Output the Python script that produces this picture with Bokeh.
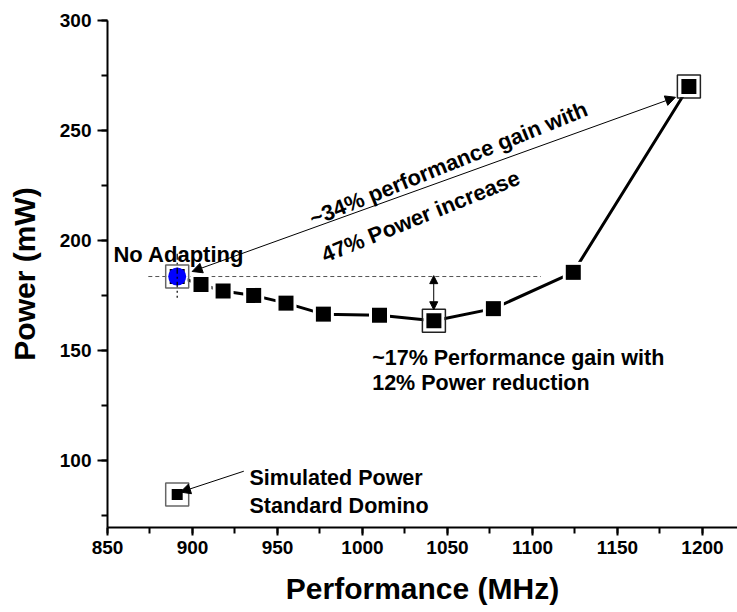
from bokeh.plotting import figure
from bokeh.models import Range1d, SingleIntervalTicker, Arrow, NormalHead
from bokeh.core.properties import value
from bokeh.embed import file_html
from bokeh.resources import INLINE
import math

# ---- data ----
perf_mhz = [891, 905, 918, 936, 955, 977, 1010, 1042, 1077, 1124, 1192]
power_mw = [183.6, 180.0, 177.0, 175.0, 171.5, 166.5, 166.0, 163.5, 169.0, 185.5, 270.0]
no_adapt_perf = [891]
no_adapt_power = [183.6]
sim_perf = [891]
sim_power = [84.5]
boxed_perf = [891, 1042, 1192]
boxed_power = [183.6, 163.5, 270.0]
x_ticks = [850, 900, 950, 1000, 1050, 1100, 1150, 1200]
y_ticks = [100, 150, 200, 250, 300]

FONT = "Liberation Sans"

p = figure(width=737, height=612, output_backend="svg", toolbar_location=None,
           x_range=Range1d(850, 1220.6), y_range=Range1d(69.5, 300),
           min_border_left=107, min_border_right=0, min_border_top=20, min_border_bottom=85)
p.outline_line_color = None
p.grid.visible = False
p.background_fill_color = "white"
p.border_fill_color = "white"

p.xaxis.ticker = SingleIntervalTicker(interval=50, num_minor_ticks=2)
p.yaxis.ticker = SingleIntervalTicker(interval=50, num_minor_ticks=2)
for ax in (p.xaxis, p.yaxis):
    ax.axis_line_width = 2
    ax.major_tick_line_width = 2
    ax.minor_tick_line_width = 2
    ax.major_tick_in = 0
    ax.minor_tick_in = 0
    ax.major_label_text_font = FONT
    ax.major_label_text_font_style = "bold"
    ax.major_label_text_font_size = "19px"
    ax.major_label_text_color = "black"
    ax.axis_label_text_font = FONT
    ax.axis_label_text_font_style = "bold"
    ax.axis_label_text_font_size = "30px"
    ax.axis_label_text_color = "black"
p.xaxis.major_tick_out = 8
p.xaxis.minor_tick_out = 6
p.yaxis.major_tick_out = 10
p.yaxis.minor_tick_out = 6
p.xaxis.major_label_standoff = 5
p.yaxis.major_label_standoff = 6

p.xaxis.axis_label = "Performance (MHz)"
p.xaxis.axis_label_standoff = 15
p.yaxis.axis_label = "Power (mW)"
p.yaxis.axis_label_standoff = 16

# reference lines
p.line([874, 1105], [no_adapt_power[0]] * 2, line_color="#555555", line_width=1, line_dash="4 3")

# main series
p.line(perf_mhz, power_mw, line_color="black", line_width=3)
p.scatter(perf_mhz, power_mw, marker="square", size=21, fill_color="white", line_color=None)
p.scatter(perf_mhz, power_mw, marker="square", size=15, fill_color="black", line_color=None)

# simulated point
p.scatter(sim_perf, sim_power, marker="square", size=11, fill_color="black", line_color=None)

# no adapting point
p.scatter(no_adapt_perf, no_adapt_power, marker="circle", size=18, fill_color="#0000FF", line_color=None)
p.line([no_adapt_perf[0]] * 2, [194, 174], line_color="black", line_width=1.2, line_dash="6 3 2 3")

# highlight boxes
p.scatter(boxed_perf, boxed_power, marker="square", size=23, fill_color=None,
          line_color=["#666666", "#222222", "#222222"], line_width=1.5)
p.scatter(sim_perf, sim_power, marker="square", size=23, fill_color=None,
          line_color="#666666", line_width=1.5)

# arrows
p.add_layout(Arrow(start=NormalHead(size=10, fill_color="black", line_color="black"),
                   end=NormalHead(size=10, fill_color="black", line_color="black"),
                   x_start=899.8, y_start=185.9, x_end=1184.1, y_end=265.1,
                   line_color="black", line_width=1))
p.add_layout(Arrow(start=NormalHead(size=8, fill_color="black", line_color="black"),
                   end=NormalHead(size=8, fill_color="black", line_color="black"),
                   x_start=1041.9, y_start=184.0, x_end=1041.9, y_end=168.5,
                   line_color="black", line_width=1))
p.add_layout(Arrow(end=NormalHead(size=10, fill_color="black", line_color="black"),
                   x_start=930.2, y_start=95.1, x_end=892.9, y_end=85.6,
                   line_color="black", line_width=1))

# texts
tkw = dict(text_font=value(FONT), text_font_style="bold", text_color="black",
           text_align="left", text_baseline="alphabetic")
p.text(x=[853.5], y=[193.6], text=["No Adapting"], text_font_size="22px", **tkw)
p.text(x=[1005.7, 1005.7], y=[146.6, 135.0],
       text=["~17% Performance gain with", "12% Power reduction"], text_font_size="21.5px", **tkw)
p.text(x=[933.5, 933.5], y=[91.8, 79.1],
       text=["Simulated Power", "Standard Domino"], text_font_size="21.5px", **tkw)
p.text(x=[969.4], y=[209.5], text=["~34% performance gain with"], angle=math.radians(22),
       text_font_size="22px", **tkw)
p.text(x=[976.5], y=[193.0], text=["47% Power increase"], angle=math.radians(22),
       text_font_size="22px", **tkw)

open("out.html", "w").write(file_html(p, INLINE))
